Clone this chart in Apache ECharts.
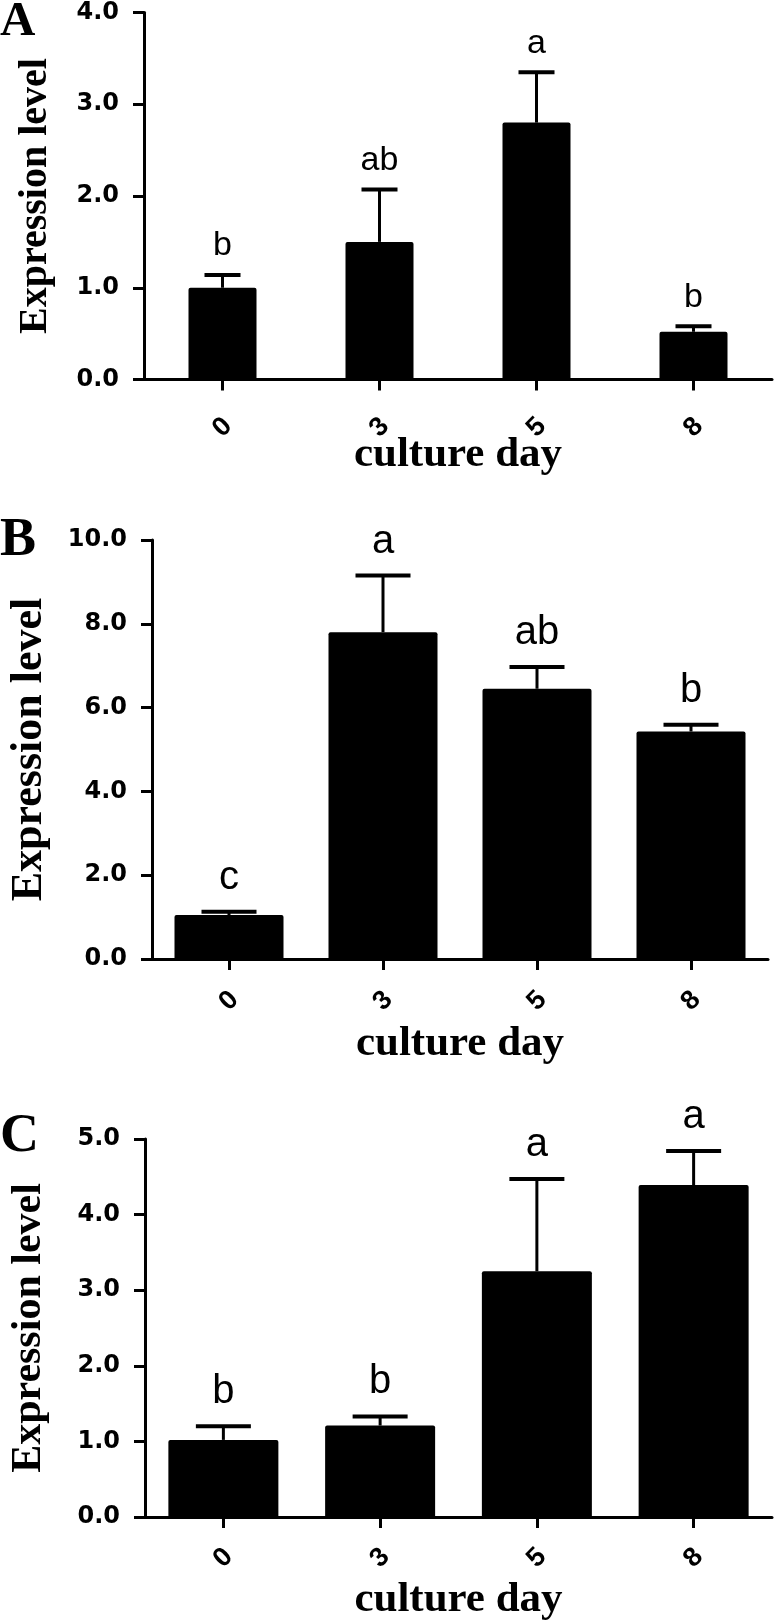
<!DOCTYPE html>
<html>
<head>
<meta charset="utf-8">
<script src="https://cdn.jsdelivr.net/npm/echarts@6/dist/echarts.min.js"></script>
<style>
html,body{margin:0;padding:0;background:#fff;}
#chart{width:776px;height:1622px;}
</style>
</head>
<body>
<div id="chart"></div>
<script>
// ---- data ----
const categories = ['0', '3', '5', '8'];

const meanA = [1.0, 1.5, 2.8, 0.52];
const semA = [0.14, 0.57, 0.55, 0.06];
const lettersA = ['b', 'ab', 'a', 'b'];

const meanB = [1.05, 7.8, 6.45, 5.43];
const semB = [0.08, 1.35, 0.52, 0.16];
const lettersB = ['c', 'a', 'ab', 'b'];

const meanC = [1.02, 1.21, 3.25, 4.39];
const semC = [0.18, 0.12, 1.22, 0.45];
const lettersC = ['b', 'b', 'a', 'a'];

const yMaxA = 4, yStepA = 1;
const yMaxB = 10, yStepB = 2;
const yMaxC = 5, yStepC = 1;

const panelLabels = ['A', 'B', 'C'];
const xTitle = 'culture day';
const yTitle = 'Expression level';

// ---- helpers ----
const SERIF = '"Liberation Serif", "Times New Roman", serif';
const SANS = '"Liberation Sans", Arial, sans-serif';

function errData(mean, sem) {
  return mean.map((m, i) => [i, m, m + sem[i]]);
}

function errRender(letters, capW, gap, fontSize) {
  return function (params, api) {
    const i = api.value(0);
    const base = api.coord([i, api.value(1)]);
    const top = api.coord([i, api.value(2)]);
    return {
      type: 'group',
      children: [
        { type: 'line', shape: { x1: base[0], y1: base[1], x2: top[0], y2: top[1] },
          style: { stroke: '#000', lineWidth: 3 } },
        { type: 'line', shape: { x1: top[0] - capW / 2, y1: top[1], x2: top[0] + capW / 2, y2: top[1] },
          style: { stroke: '#000', lineWidth: 4 } },
        { type: 'text',
          style: { text: letters[params.dataIndex], x: top[0], y: top[1] - gap,
                   align: 'center', verticalAlign: 'bottom',
                   font: fontSize + 'px ' + SANS, fill: '#000' } }
      ]
    };
  };
}

function xAxisCfg(gridIndex, nameGap, labelMargin) {
  return {
    type: 'category', gridIndex, data: categories, boundaryGap: true,
    axisLine: { show: true, lineStyle: { color: '#000', width: 3 } },
    axisTick: { show: true, alignWithLabel: true, length: 11, lineStyle: { color: '#000', width: 3 } },
    axisLabel: { rotate: 45, margin: labelMargin, align: 'center', verticalAlign: 'middle',
                 color: '#000', fontFamily: SANS, fontWeight: 'bold', fontSize: 27 },
    splitLine: { show: false },
    name: xTitle, nameLocation: 'middle', nameGap, nameMoveOverlap: false,
    nameTextStyle: { color: '#000', fontFamily: SERIF, fontWeight: 'bold', fontSize: 43 }
  };
}

function yAxisCfg(gridIndex, max, step, nameGap, nameSize) {
  return {
    type: 'value', gridIndex, min: 0, max, interval: step,
    axisLine: { show: true, lineStyle: { color: '#000', width: 3 } },
    axisTick: { show: true, length: 11, lineStyle: { color: '#000', width: 3 } },
    axisLabel: { margin: 25, color: '#000', fontFamily: '"DejaVu Sans", sans-serif', fontWeight: 'bold', fontSize: 24,
                 formatter: v => v.toFixed(1) },
    splitLine: { show: false },
    name: yTitle, nameLocation: 'middle', nameRotate: 90, nameGap, nameMoveOverlap: false,
    nameTextStyle: { color: '#000', fontFamily: SERIF, fontWeight: 'bold', fontSize: nameSize }
  };
}

function barSeries(idx, mean, width) {
  return { type: 'bar', xAxisIndex: idx, yAxisIndex: idx, data: mean, barWidth: width,
           itemStyle: { color: '#000', borderRadius: [2, 2, 0, 0] }, animation: false, silent: true };
}

function errSeries(idx, mean, sem, letters, capW, gap, fs) {
  return { type: 'custom', xAxisIndex: idx, yAxisIndex: idx, data: errData(mean, sem),
           renderItem: errRender(letters, capW, gap, fs), z: 5, animation: false, silent: true, clip: false };
}

const chart = echarts.init(document.getElementById('chart'), null, { renderer: 'canvas' });

const option = {
  backgroundColor: '#fff',
  animation: false,
  title: [
    { text: panelLabels[0], left: 0, top: -2, padding: 0,
      textStyle: { fontFamily: SERIF, fontWeight: 'bold', fontSize: 49, color: '#000' } },
    { text: panelLabels[1], left: 0, top: 514, padding: 0,
      textStyle: { fontFamily: SERIF, fontWeight: 'bold', fontSize: 54, color: '#000' } },
    { text: panelLabels[2], left: 0, top: 1110, padding: 0,
      textStyle: { fontFamily: SERIF, fontWeight: 'bold', fontSize: 54, color: '#000' } }
  ],
  grid: [
    { left: 144, right: 4, top: 12.5, height: 367 },
    { left: 144, right: 8, top: 540, height: 419 },
    { left: 144, right: 4, top: 1139, height: 381 }
  ],
  xAxis: [
    xAxisCfg(0, 54, 48),
    xAxisCfg(1, 63, 42),
    xAxisCfg(2, 61, 41)
  ],
  yAxis: [
    yAxisCfg(0, yMaxA, yStepA, 88, 40),
    yAxisCfg(1, yMaxB, yStepB, 100, 44),
    yAxisCfg(2, yMaxC, yStepC, 95, 42)
  ],
  series: [
    barSeries(0, meanA, 68),
    barSeries(1, meanB, 109),
    barSeries(2, meanC, 110),
    errSeries(0, meanA, semA, lettersA, 36, 12, 34),
    errSeries(1, meanB, semB, lettersB, 55, 14, 40),
    errSeries(2, meanC, semC, lettersC, 55, 14, 40)
  ]
};

chart.setOption(option);
</script>
</body>
</html>
